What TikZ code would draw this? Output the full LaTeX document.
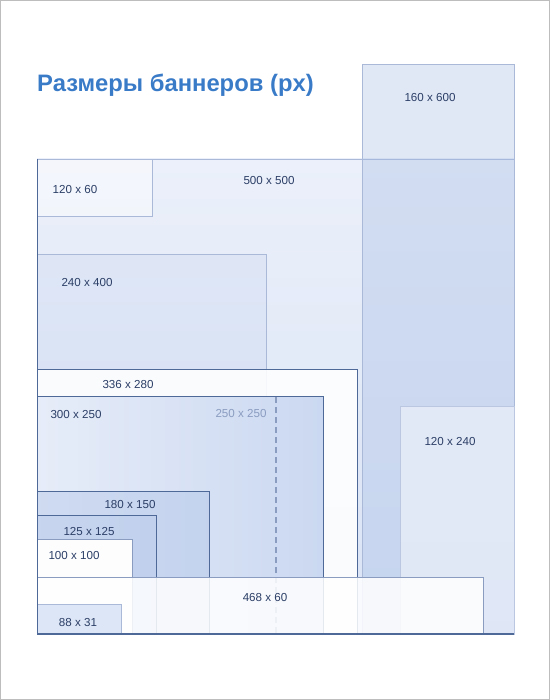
\documentclass[tikz,border=0pt]{standalone}
\usepackage{fontspec}
\setmainfont{Liberation Sans}
\definecolor{titleblue}{HTML}{3A7BC8}
\definecolor{labelc}{HTML}{2B3E66}
\definecolor{dark}{HTML}{4E6898}
\definecolor{mid}{HTML}{8A9CC0}
\definecolor{light}{HTML}{AAB9D8}
\definecolor{frame}{HTML}{BDBDBD}
\definecolor{bgtop}{HTML}{EBF0FA}
\definecolor{bgbot}{HTML}{D9E3F5}
\definecolor{tallfill}{HTML}{9FB7E3}
\tikzset{
  lbl/.style={font=\fontsize{11.6}{13}\selectfont, text=labelc, inner sep=0pt, anchor=base},
  box/.style={line width=0.9pt}
}
\begin{document}
\begin{tikzpicture}[x=1pt,y=-1pt]
\useasboundingbox (0,0) rectangle (550,700);
\draw[frame, line width=1.2pt] (0.6,0.6) rectangle (549.4,699.4);
% title
\node[font=\bfseries\fontsize{23.8}{26}\selectfont, text=titleblue, inner sep=0pt, anchor=base west] (title) at (37,92) {Размеры баннеров (px)};
% 500 x 500
\shade[top color=bgtop, bottom color=bgbot] (37,159) rectangle (514,634);
\draw[light, box] (37,159) rectangle (514,634);
% 160 x 600
\fill[tallfill, opacity=0.32] (362,64) rectangle (514,634);
\draw[light, box] (362,64) rectangle (514,634);
% 120 x 60
\fill[white, opacity=0.45] (37,159) rectangle (152,216);
\draw[light, box] (37,159) rectangle (152,216);
% 240 x 400
\fill[tallfill, opacity=0.12] (37,254) rectangle (266,634);
\draw[light, box] (37,254) rectangle (266,634);
% 120 x 240
\fill[white, opacity=0.45] (400,406) rectangle (514,634);
\draw[light!80!white, box] (400,406) rectangle (514,634);
% 336 x 280
\fill[white, opacity=0.88] (37,369) rectangle (357,634);
\draw[dark, box] (37,369) rectangle (357,634);
% 300 x 250
\shade[left color=bgtop!75!bgbot, right color=bgbot!75!tallfill] (37,396) rectangle (323,634);
\draw[dark, box] (37,396) rectangle (323,634);
% 250 x 250 dashed
\draw[mid, line width=1.3pt, dash pattern=on 6pt off 4pt] (276,397) -- (276,634);
% 180 x 150
\fill[tallfill, opacity=0.32] (37,491) rectangle (209,634);
\draw[dark, box] (37,491) rectangle (209,634);
% 125 x 125
\fill[tallfill, opacity=0.15] (37,515) rectangle (156,634);
\draw[dark, box] (37,515) rectangle (156,634);
% 100 x 100
\fill[white!90!bgtop] (37,539) rectangle (132,634);
\draw[mid, box] (37,539) rectangle (132,634);
% 468 x 60
\fill[white, opacity=0.85] (37,577) rectangle (483,634);
\draw[mid, box] (37,577) rectangle (483,634);
% 88 x 31
\fill[bgbot!90!white] (37,604) rectangle (121,634);
\draw[light, box] (37,604) rectangle (121,634);
% bottom and left edges
\draw[dark, line width=1.6pt] (37,634) -- (514,634);
\draw[dark, line width=1pt] (37,159) -- (37,634);
% labels
\node[lbl] (l160) at (430,102) {160 x 600};
\node[lbl] (l500) at (269,185) {500 x 500};
\node[lbl] (l120) at (75,194) {120 x 60};
\node[lbl] (l240) at (87,286) {240 x 400};
\node[lbl] (l336) at (128,388) {336 x 280};
\node[lbl] (l300) at (76,418) {300 x 250};
\node[lbl, text=mid] (l250) at (241,417) {250 x 250};
\node[lbl] (l1224) at (450,445) {120 x 240};
\node[lbl] (l180) at (130,508) {180 x 150};
\node[lbl] (l125) at (89,535) {125 x 125};
\node[lbl] (l100) at (74,559) {100 x 100};
\node[lbl] (l468) at (265,601) {468 x 60};
\node[lbl] (l88) at (78,626) {88 x 31};
\end{tikzpicture}
\end{document}
